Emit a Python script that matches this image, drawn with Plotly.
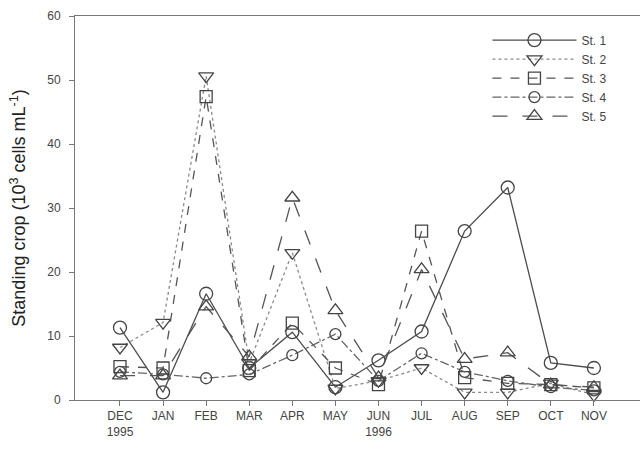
import plotly.graph_objects as go

# Sampling months (Dec 1995 - Nov 1996)
months = ["DEC<br>1995", "JAN", "FEB", "MAR", "APR", "MAY",
          "JUN<br>1996", "JUL", "AUG", "SEP", "OCT", "NOV"]

# Standing crop (10^3 cells mL^-1) per station
st1 = [11.3, 1.2, 16.6, 5.0, 10.6, 2.0, 6.2, 10.7, 26.4, 33.2, 5.8, 5.0]
st2 = [8.2, 12.1, 50.6, 5.8, 23.0, 1.8, 3.0, 5.0, 1.2, 1.2, 2.6, 0.8]
st3 = [5.2, 5.0, 47.4, 4.6, 12.0, 5.0, 2.4, 26.4, 3.5, 2.6, 2.4, 1.9]
st4 = [4.4, 4.0, 3.4, 4.0, 7.0, 10.3, 3.0, 7.3, 4.4, 3.0, 2.0, 1.5]
st5 = [3.8, 3.8, 14.6, 6.8, 31.6, 14.0, 3.5, 20.4, 6.4, 7.4, 2.4, 2.0]

names = ["St. 1", "St. 2", "St. 3", "St. 4", "St. 5"]
series = [st1, st2, st3, st4, st5]
dashes = ["solid", "dot", "dash", "dashdot", "longdash"]
symbols = ["circle-open", "triangle-down-open", "square-open",
           "circle-open", "triangle-up-open"]
sizes = [13, 13, 12, 11, 13]
line_colors = ["#4d4d4d", "#8a8a8a", "#555555", "#666666", "#555555"]

x = list(range(len(months)))

fig = go.Figure()
for name, vals, dash, sym, sz, col in zip(names, series, dashes, symbols, sizes, line_colors):
    fig.add_trace(go.Scatter(
        x=x, y=vals, name=name, mode="lines+markers",
        line=dict(color=col, width=1.3, dash=dash),
        marker=dict(symbol=sym, size=sz, color="#444444",
                    line=dict(width=1.3, color="#444444")),
        cliponaxis=False,
    ))

font_family = "Liberation Sans, Arial, sans-serif"

fig.update_layout(
    width=640, height=451,
    margin=dict(l=75, r=0, t=16, b=51),
    paper_bgcolor="white", plot_bgcolor="white",
    font=dict(family=font_family, color="#444444", size=12),
    showlegend=True,
    legend=dict(
        x=0.73, y=0.975, xanchor="left", yanchor="top",
        bgcolor="rgba(0,0,0,0)", borderwidth=0,
        font=dict(size=12, color="#444444"),
        itemwidth=84, tracegroupgap=0,
    ),
    xaxis=dict(
        range=[-1.044, 12.07],
        tickmode="array", tickvals=x, ticktext=months,
        showgrid=False, zeroline=False,
        showline=True, linecolor="#777777", linewidth=1, mirror=True,
        ticks="outside", ticklen=5, tickcolor="#777777",
        tickfont=dict(size=12, color="#444444"),
    ),
    yaxis=dict(
        range=[0, 60], tickmode="array", tickvals=[0, 10, 20, 30, 40, 50, 60],
        showgrid=False, zeroline=False,
        showline=True, linecolor="#777777", linewidth=1, mirror=True,
        ticks="outside", ticklen=5, tickcolor="#777777",
        ticklabelstandoff=6,
        tickfont=dict(size=12, color="#444444"),
        title=dict(text="Standing crop (10<sup>3</sup> cells mL<sup>-1</sup>)",
                   font=dict(size=18, color="#222222"), standoff=16),
    ),
)

fig.write_html("out.html")
